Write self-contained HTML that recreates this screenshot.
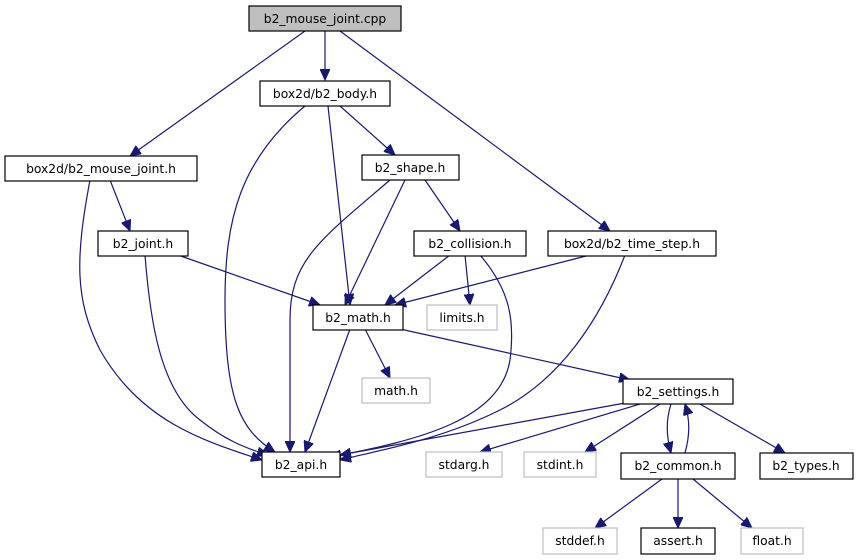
<!DOCTYPE html>
<html><head><meta charset="utf-8"><style>
body{margin:0;background:#fff}
svg{display:block}
text{font-family:"DejaVu Sans","Liberation Sans",sans-serif;font-size:12.3px;text-anchor:middle;fill:#000}
.e{fill:none;stroke:#191970;stroke-width:1.2}
.n{fill:#fff;stroke:#000;stroke-width:1.2}
.g{fill:#fff;stroke:#bfbfbf;stroke-width:1.2}
</style></head><body>
<svg width="859" height="560" viewBox="0 0 859 560">
<defs><marker id="a" markerUnits="userSpaceOnUse" markerWidth="12" markerHeight="10" refX="11" refY="5" orient="auto"><path d="M0,0 L11,5 L0,10 Z" fill="#191970" stroke="#191970"/></marker></defs>
<g class="e" marker-end="url(#a)">
<path d="M325,31 L325,80"/>
<path d="M305,31 L130,156"/>
<path d="M340,31 L610,231"/>
<path d="M305,106 C240,160 225,220 225,300 C225,400 240,430 275,452"/>
<path d="M328,106 L350,305"/>
<path d="M340,106 L395,155"/>
<path d="M90,180 C75,260 75,300 100,350 C140,420 200,440 262,460"/>
<path d="M110,180 L130,231"/>
<path d="M390,180 C320,240 290,260 290,320 L290,452"/>
<path d="M405,180 L345,305"/>
<path d="M425,180 L460,231"/>
<path d="M145,255 C150,320 160,390 200,420 C225,440 245,448 268,455"/>
<path d="M178,255 L320,305"/>
<path d="M450,255 L385,305"/>
<path d="M465,255 L470,305"/>
<path d="M480,255 C510,290 515,320 510,360 C500,420 420,440 330,457"/>
<path d="M590,255 L395,305"/>
<path d="M625,255 C600,320 560,380 500,410 C440,440 380,450 340,460"/>
<path d="M350,329 L305,452"/>
<path d="M365,329 L390,378"/>
<path d="M400,329 L630,380"/>
<path d="M625,403 L340,455"/>
<path d="M640,404 L480,452"/>
<path d="M660,404 L585,452"/>
<path d="M671,404 C666,420 666,435 671,453"/>
<path d="M685,453 C690,435 690,420 685,404"/>
<path d="M700,404 L785,453"/>
<path d="M662,479 L595,528"/>
<path d="M678,479 L678,528"/>
<path d="M693,479 L752,528"/>
</g>
<rect x="249" y="6" width="152" height="25" fill="#bfbfbf" stroke="#000" stroke-width="1.2"/><text x="325" y="23">b2_mouse_joint.cpp</text>
<rect class="n" x="260" y="81" width="130" height="25"/><text x="325" y="98">box2d/b2_body.h</text>
<rect class="n" x="5" y="156" width="192" height="25"/><text x="101" y="173">box2d/b2_mouse_joint.h</text>
<rect class="n" x="362" y="155" width="97" height="25"/><text x="410" y="172">b2_shape.h</text>
<rect class="n" x="98" y="231" width="90" height="25"/><text x="143" y="248">b2_joint.h</text>
<rect class="n" x="414" y="231" width="112" height="25"/><text x="470" y="248">b2_collision.h</text>
<rect class="n" x="548" y="231" width="168" height="25"/><text x="632" y="248">box2d/b2_time_step.h</text>
<rect class="n" x="313" y="305" width="90" height="25"/><text x="358" y="322">b2_math.h</text>
<rect class="g" x="427" y="305" width="70" height="25"/><text x="462" y="322">limits.h</text>
<rect class="g" x="362" y="378" width="68" height="25"/><text x="396" y="395">math.h</text>
<rect class="n" x="623" y="379" width="110" height="25"/><text x="678" y="396">b2_settings.h</text>
<rect class="n" x="262" y="452" width="78" height="25"/><text x="301" y="469">b2_api.h</text>
<rect class="g" x="426" y="452" width="76" height="25"/><text x="464" y="469">stdarg.h</text>
<rect class="g" x="524" y="452" width="72" height="25"/><text x="560" y="469">stdint.h</text>
<rect class="n" x="621" y="453" width="114" height="26"/><text x="678" y="470">b2_common.h</text>
<rect class="n" x="760" y="453" width="93" height="26"/><text x="806" y="470">b2_types.h</text>
<rect class="g" x="543" y="528" width="74" height="26"/><text x="580" y="545">stddef.h</text>
<rect class="n" x="641" y="528" width="74" height="26"/><text x="678" y="545">assert.h</text>
<rect class="g" x="741" y="528" width="62" height="26"/><text x="772" y="545">float.h</text>
</svg>
</body></html>
